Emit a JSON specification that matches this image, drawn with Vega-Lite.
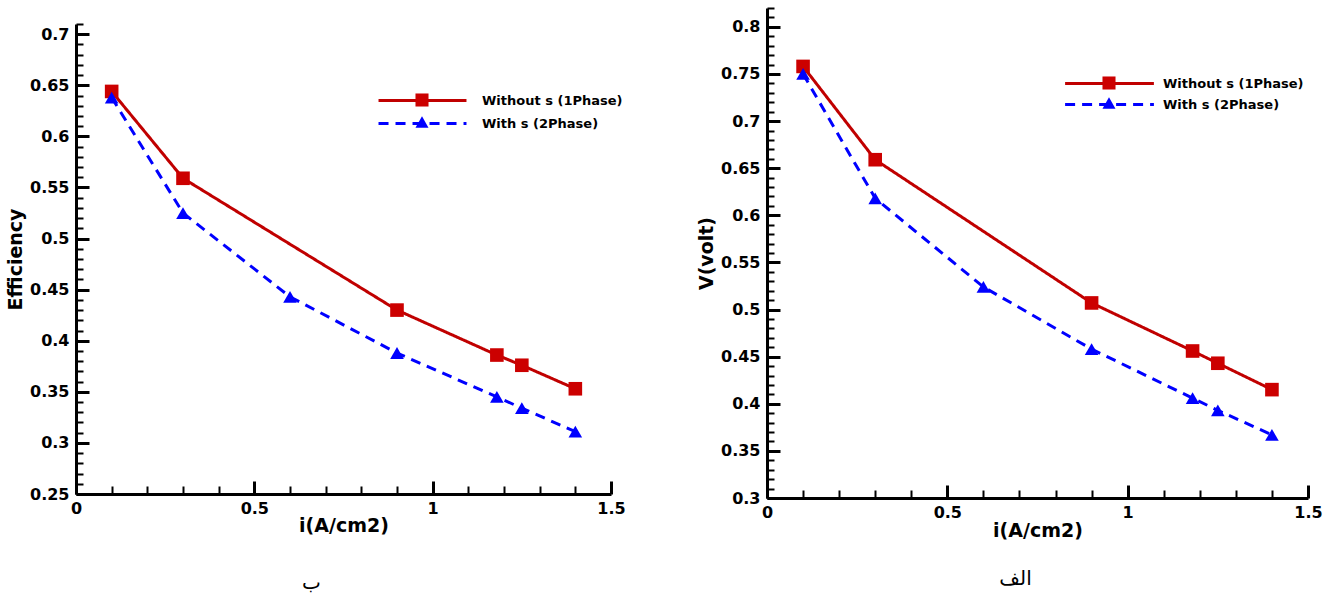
{
  "$schema": "https://vega.github.io/schema/vega-lite/v6.json",
  "padding": {"left": 6, "top": 7, "right": 0, "bottom": 0},
  "background": "white",
  "config": {
    "view": {"stroke": null},
    "font": "DejaVu Sans",
    "axis": {
      "grid": false,
      "domainColor": "black",
      "domainWidth": 3,
      "tickColor": "black",
      "labelFont": "DejaVu Sans",
      "labelFontWeight": "bold",
      "labelFontSize": 16,
      "labelColor": "black",
      "labelFlush": false,
      "labelOverlap": false,
      "titleFont": "DejaVu Sans",
      "titleFontWeight": "bold",
      "titleFontSize": 19,
      "titleColor": "black"
    }
  },
  "datasets": {
    "eff": [
      {"i": 0.1, "value": 0.644, "series": "Without s (1Phase)"},
      {"i": 0.3, "value": 0.559, "series": "Without s (1Phase)"},
      {"i": 0.9, "value": 0.430, "series": "Without s (1Phase)"},
      {"i": 1.18, "value": 0.386, "series": "Without s (1Phase)"},
      {"i": 1.25, "value": 0.376, "series": "Without s (1Phase)"},
      {"i": 1.4, "value": 0.353, "series": "Without s (1Phase)"},
      {"i": 0.1, "value": 0.638, "series": "With s (2Phase)"},
      {"i": 0.3, "value": 0.525, "series": "With s (2Phase)"},
      {"i": 0.6, "value": 0.443, "series": "With s (2Phase)"},
      {"i": 0.9, "value": 0.388, "series": "With s (2Phase)"},
      {"i": 1.18, "value": 0.345, "series": "With s (2Phase)"},
      {"i": 1.25, "value": 0.334, "series": "With s (2Phase)"},
      {"i": 1.4, "value": 0.311, "series": "With s (2Phase)"}
    ],
    "volt": [
      {"i": 0.1, "value": 0.758, "series": "Without s (1Phase)"},
      {"i": 0.3, "value": 0.659, "series": "Without s (1Phase)"},
      {"i": 0.9, "value": 0.507, "series": "Without s (1Phase)"},
      {"i": 1.18, "value": 0.456, "series": "Without s (1Phase)"},
      {"i": 1.25, "value": 0.443, "series": "Without s (1Phase)"},
      {"i": 1.4, "value": 0.415, "series": "Without s (1Phase)"},
      {"i": 0.1, "value": 0.750, "series": "With s (2Phase)"},
      {"i": 0.3, "value": 0.618, "series": "With s (2Phase)"},
      {"i": 0.6, "value": 0.524, "series": "With s (2Phase)"},
      {"i": 0.9, "value": 0.458, "series": "With s (2Phase)"},
      {"i": 1.18, "value": 0.406, "series": "With s (2Phase)"},
      {"i": 1.25, "value": 0.393, "series": "With s (2Phase)"},
      {"i": 1.4, "value": 0.367, "series": "With s (2Phase)"}
    ]
  },
  "spacing": 71,
  "resolve": {
    "scale": {"stroke": "independent", "strokeDash": "independent", "fill": "independent", "shape": "independent"},
    "legend": {"stroke": "independent", "strokeDash": "independent", "fill": "independent", "shape": "independent"}
  },
  "hconcat": [
    {
      "width": 535,
      "height": 486,
      "data": {"name": "eff"},
      "title": {"text": "ب", "orient": "bottom", "font": "DejaVu Sans", "fontSize": 20, "fontWeight": "normal", "color": "black", "offset": 38, "dx": -32},
      "resolve": {"axis": {"x": "independent", "y": "independent"}},
      "layer": [
        {
          "mark": {"type": "line", "strokeWidth": 3},
          "encoding": {
            "x": {"field": "i", "type": "quantitative",
              "scale": {"domain": [0, 1.5], "nice": false, "zero": false},
              "axis": {"values": [0, 0.5, 1, 1.5], "format": "~g", "tickSize": -13, "tickWidth": 3, "labelPadding": 19, "title": "i(A/cm2)", "titlePadding": 0}},
            "y": {"field": "value", "type": "quantitative",
              "scale": {"domain": [0.25, 0.71], "range": [486, 16], "nice": false, "zero": false},
              "axis": {"values": [0.25, 0.3, 0.35, 0.4, 0.45, 0.5, 0.55, 0.6, 0.65, 0.7], "format": "~g", "tickSize": -13, "tickWidth": 3, "labelPadding": 20, "title": "Efficiency", "titlePadding": 4}},
            "stroke": {"field": "series", "type": "nominal",
              "scale": {"domain": ["Without s (1Phase)", "With s (2Phase)"], "range": ["#c00000", "#0000ff"]},
              "legend": {"orient": "none", "legendX": 339, "legendY": 85, "title": null, "padding": 0, "symbolType": "M-7.33,0H7.33", "symbolSize": 144, "symbolStrokeWidth": 3, "labelFont": "DejaVu Sans", "labelFontWeight": "bold", "labelFontSize": 13, "labelColor": "black", "labelOffset": 52, "rowPadding": 8}},
            "strokeDash": {"field": "series", "type": "nominal",
              "scale": {"domain": ["Without s (1Phase)", "With s (2Phase)"], "range": [[1, 0], [10, 7]]},
              "legend": {"orient": "none", "legendX": 339, "legendY": 85, "title": null, "padding": 0, "symbolType": "M-7.33,0H7.33", "symbolSize": 144, "symbolStrokeWidth": 3, "labelFont": "DejaVu Sans", "labelFontWeight": "bold", "labelFontSize": 13, "labelColor": "black", "labelOffset": 52, "rowPadding": 8}}
          }
        },
        {
          "mark": {"type": "point", "filled": true, "size": 185, "opacity": 1, "strokeWidth": 0},
          "encoding": {
            "x": {"field": "i", "type": "quantitative",
              "axis": {"orient": "bottom", "values": [0.1, 0.2, 0.3, 0.4, 0.6, 0.7, 0.8, 0.9, 1.1, 1.2, 1.3, 1.4], "tickSize": -8, "tickWidth": 2, "labels": false, "domain": false, "title": null}},
            "y": {"field": "value", "type": "quantitative",
              "axis": {"orient": "left", "values": [0.26, 0.27, 0.28, 0.29, 0.31, 0.32, 0.33, 0.34, 0.36, 0.37, 0.38, 0.39, 0.41, 0.42, 0.43, 0.44, 0.46, 0.47, 0.48, 0.49, 0.51, 0.52, 0.53, 0.54, 0.56, 0.57, 0.58, 0.59, 0.61, 0.62, 0.63, 0.64, 0.66, 0.67, 0.68, 0.69, 0.71], "tickSize": -7, "tickWidth": 2, "labels": false, "domain": false, "title": null}},
            "fill": {"field": "series", "type": "nominal", "sort": "descending",
              "scale": {"range": ["#cc0000", "#0000ff"]},
              "legend": {"orient": "none", "legendX": 339, "legendY": 85, "title": null, "padding": 0, "symbolSize": 170, "symbolStrokeWidth": 0, "labelFont": "DejaVu Sans", "labelFontWeight": "bold", "labelFontSize": 13, "labelOpacity": 0, "labelOffset": 52, "rowPadding": 8}},
            "shape": {"field": "series", "type": "nominal", "sort": "descending",
              "scale": {"range": ["square", "triangle-up"]},
              "legend": {"orient": "none", "legendX": 339, "legendY": 85, "title": null, "padding": 0, "symbolSize": 170, "symbolStrokeWidth": 0, "labelFont": "DejaVu Sans", "labelFontWeight": "bold", "labelFontSize": 13, "labelOpacity": 0, "labelOffset": 52, "rowPadding": 8}}
          }
        }
      ]
    },
    {
      "width": 541,
      "height": 490,
      "data": {"name": "volt"},
      "title": {"text": "الف", "orient": "bottom", "font": "DejaVu Sans", "fontSize": 20, "fontWeight": "normal", "color": "black", "offset": 29, "dx": -22},
      "resolve": {"axis": {"x": "independent", "y": "independent"}},
      "layer": [
        {
          "mark": {"type": "line", "strokeWidth": 3},
          "encoding": {
            "x": {"field": "i", "type": "quantitative",
              "scale": {"domain": [0, 1.5], "nice": false, "zero": false},
              "axis": {"values": [0, 0.5, 1, 1.5], "format": "~g", "tickSize": -13, "tickWidth": 3, "labelPadding": 19, "title": "i(A/cm2)", "titlePadding": 1}},
            "y": {"field": "value", "type": "quantitative",
              "scale": {"domain": [0.3, 0.82], "nice": false, "zero": false},
              "axis": {"values": [0.3, 0.35, 0.4, 0.45, 0.5, 0.55, 0.6, 0.65, 0.7, 0.75, 0.8], "format": "~g", "tickSize": -13, "tickWidth": 3, "labelPadding": 20, "title": "V(volt)", "titlePadding": 4}},
            "stroke": {"field": "series", "type": "nominal",
              "scale": {"domain": ["Without s (1Phase)", "With s (2Phase)"], "range": ["#c00000", "#0000ff"]},
              "legend": {"orient": "none", "legendX": 335, "legendY": 68, "title": null, "padding": 0, "symbolType": "M-7.4,0H7.4", "symbolSize": 144, "symbolStrokeWidth": 3, "labelFont": "DejaVu Sans", "labelFontWeight": "bold", "labelFontSize": 13, "labelColor": "black", "labelOffset": 46, "rowPadding": 6}},
            "strokeDash": {"field": "series", "type": "nominal",
              "scale": {"domain": ["Without s (1Phase)", "With s (2Phase)"], "range": [[1, 0], [10, 7]]},
              "legend": {"orient": "none", "legendX": 335, "legendY": 68, "title": null, "padding": 0, "symbolType": "M-7.4,0H7.4", "symbolSize": 144, "symbolStrokeWidth": 3, "labelFont": "DejaVu Sans", "labelFontWeight": "bold", "labelFontSize": 13, "labelColor": "black", "labelOffset": 46, "rowPadding": 6}}
          }
        },
        {
          "mark": {"type": "point", "filled": true, "size": 185, "opacity": 1, "strokeWidth": 0},
          "encoding": {
            "x": {"field": "i", "type": "quantitative",
              "axis": {"orient": "bottom", "values": [0.1, 0.2, 0.3, 0.4, 0.6, 0.7, 0.8, 0.9, 1.1, 1.2, 1.3, 1.4], "tickSize": -8, "tickWidth": 2, "labels": false, "domain": false, "title": null}},
            "y": {"field": "value", "type": "quantitative",
              "axis": {"orient": "left", "values": [0.31, 0.32, 0.33, 0.34, 0.36, 0.37, 0.38, 0.39, 0.41, 0.42, 0.43, 0.44, 0.46, 0.47, 0.48, 0.49, 0.51, 0.52, 0.53, 0.54, 0.56, 0.57, 0.58, 0.59, 0.61, 0.62, 0.63, 0.64, 0.66, 0.67, 0.68, 0.69, 0.71, 0.72, 0.73, 0.74, 0.76, 0.77, 0.78, 0.79, 0.81, 0.82], "tickSize": -7, "tickWidth": 2, "labels": false, "domain": false, "title": null}},
            "fill": {"field": "series", "type": "nominal", "sort": "descending",
              "scale": {"range": ["#cc0000", "#0000ff"]},
              "legend": {"orient": "none", "legendX": 335, "legendY": 68, "title": null, "padding": 0, "symbolSize": 170, "symbolStrokeWidth": 0, "labelFont": "DejaVu Sans", "labelFontWeight": "bold", "labelFontSize": 13, "labelOpacity": 0, "labelOffset": 46, "rowPadding": 6}},
            "shape": {"field": "series", "type": "nominal", "sort": "descending",
              "scale": {"range": ["square", "triangle-up"]},
              "legend": {"orient": "none", "legendX": 335, "legendY": 68, "title": null, "padding": 0, "symbolSize": 170, "symbolStrokeWidth": 0, "labelFont": "DejaVu Sans", "labelFontWeight": "bold", "labelFontSize": 13, "labelOpacity": 0, "labelOffset": 46, "rowPadding": 6}}
          }
        }
      ]
    }
  ]
}
